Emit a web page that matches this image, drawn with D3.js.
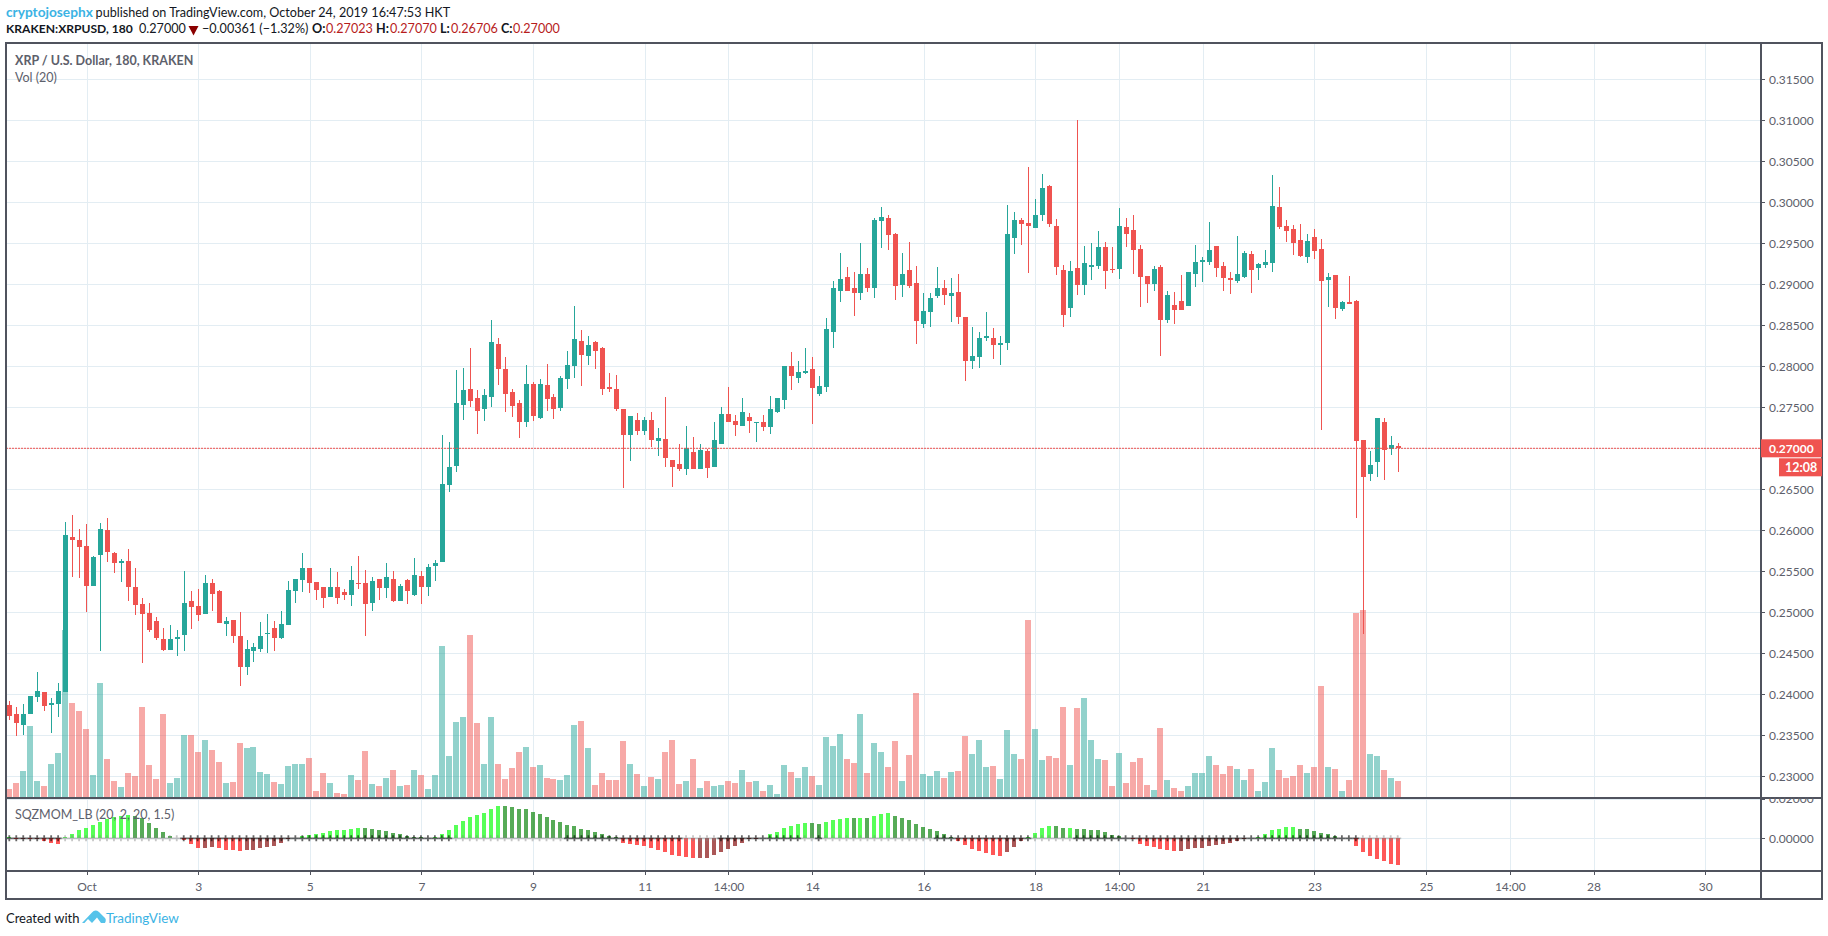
<!DOCTYPE html>
<html>
<head>
<meta charset="utf-8">
<script src="https://cdn.jsdelivr.net/npm/d3@7/dist/d3.min.js"></script>
<style>
    html, body { margin: 0; padding: 0; background: #fff; }
    svg { display: block; }
    text { font-family: Lato, "Open Sans", sans-serif; }
</style>
</head>
<body>
<div id="chart"></div>
<script>
// candles, 3h bars, oldest first
const opens = [
    0.23870,0.23760,0.23626,0.23760,0.23968,0.24029,0.23870,0.23882,0.24029,0.25919,0.25882,0.25809,0.25321,0.25699,0.26004,0.25724,0.25602,0.25626,0.25309,0.25102,
    0.24992,0.24894,0.24675,0.24541,0.24675,0.24724,0.25138,0.25077,0.24980,0.25358,0.25260,0.24858,0.24907,0.24711,0.24333,0.24529,0.24553,0.24736,0.24809,0.24687,
    0.24846,0.25260,0.25394,0.25541,0.25370,0.25309,0.25187,0.25309,0.25248,0.25211,0.25358,0.25358,0.25114,0.25407,0.25297,0.25407,0.25138,0.25394,0.25211,0.25443,
    0.25309,0.25565,0.25614,0.26553,0.26785,0.27529,0.27724,0.27614,0.27480,0.27626,0.28272,0.27968,0.27687,0.27553,0.27321,0.27785,0.27370,0.27772,0.27626,0.27492,
    0.27846,0.28004,0.28309,0.28126,0.28297,0.28224,0.27748,0.27724,0.27480,0.27163,0.27346,0.27212,0.27346,0.27090,0.27114,0.26858,0.26809,0.26748,0.26955,0.26748,
    0.26968,0.26772,0.27053,0.27419,0.27333,0.27272,0.27382,0.27309,0.27321,0.27260,0.27443,0.27590,0.28004,0.27858,0.27919,0.27968,0.27663,0.27748,0.28418,0.28918,
    0.29089,0.28955,0.28894,0.29126,0.28955,0.29772,0.29809,0.29613,0.28991,0.29174,0.29016,0.28516,0.28662,0.28857,0.28955,0.28857,0.28906,0.28601,0.28065,0.28113,
    0.28345,0.28345,0.28260,0.28284,0.29565,0.29784,0.29748,0.29687,0.29845,0.30193,0.29711,0.29174,0.28711,0.29199,0.28991,0.29211,0.29223,0.29455,0.29187,0.29187,
    0.29699,0.29662,0.29430,0.29101,0.29004,0.29211,0.28565,0.28748,0.28796,0.28735,0.29126,0.29272,0.29272,0.29467,0.29223,0.29077,0.29040,0.29089,0.29370,0.29199,
    0.29236,0.29260,0.29943,0.29711,0.29675,0.29540,0.29333,0.29577,0.29431,0.29053,0.29114,0.28699,0.28784,0.28797,0.27101,0.26687,0.26833,0.27321,0.26996,0.27023
];
const highs = [
    0.23919,0.23846,0.23882,0.23980,0.24272,0.24029,0.23955,0.24138,0.26102,0.26187,0.26016,0.26077,0.25687,0.26090,0.26150,0.25736,0.25650,0.25772,0.25541,0.25175,
    0.25114,0.24943,0.24809,0.24846,0.24785,0.25504,0.25260,0.25285,0.25455,0.25407,0.25272,0.24943,0.24907,0.25004,0.24663,0.24626,0.24882,0.24980,0.24894,0.25016,
    0.25382,0.25407,0.25724,0.25541,0.25370,0.25309,0.25541,0.25492,0.25285,0.25565,0.25687,0.25516,0.25431,0.25407,0.25602,0.25504,0.25346,0.25407,0.25663,0.25504,
    0.25590,0.25638,0.27163,0.27077,0.27955,0.27980,0.28224,0.27711,0.27724,0.28565,0.28346,0.28114,0.27724,0.27590,0.28016,0.27809,0.27846,0.28029,0.27663,0.27882,
    0.28187,0.28736,0.28443,0.28370,0.28309,0.28236,0.27919,0.27894,0.27480,0.27394,0.27431,0.27382,0.27443,0.27248,0.27626,0.26858,0.27053,0.27272,0.27138,0.27053,
    0.26992,0.27321,0.27504,0.27748,0.27407,0.27614,0.27431,0.27321,0.27407,0.27638,0.27614,0.28004,0.28175,0.28065,0.28224,0.28114,0.27882,0.28590,0.29040,0.29382,
    0.29211,0.29150,0.29504,0.29199,0.29809,0.29943,0.29845,0.29626,0.29382,0.29516,0.29223,0.28894,0.28894,0.29211,0.29052,0.29077,0.29126,0.28601,0.28479,0.28418,
    0.28662,0.28467,0.28370,0.29967,0.29882,0.29809,0.30430,0.30040,0.30349,0.30210,0.29796,0.29235,0.29284,0.31000,0.29467,0.29504,0.29650,0.29516,0.29455,0.29930,
    0.29809,0.29845,0.29479,0.29101,0.29223,0.29235,0.28918,0.28906,0.29113,0.29150,0.29479,0.29333,0.29760,0.29467,0.29272,0.29150,0.29589,0.29406,0.29406,0.29260,
    0.29418,0.30333,0.30187,0.29784,0.29723,0.29736,0.29614,0.29675,0.29553,0.29138,0.29114,0.28797,0.29101,0.28809,0.27101,0.26967,0.27369,0.27369,0.27150,0.27070
];
const lows = [
    0.23687,0.23492,0.23504,0.23760,0.23907,0.23797,0.23529,0.23724,0.24029,0.25431,0.25419,0.25004,0.25321,0.24529,0.25614,0.25480,0.25370,0.25138,0.24968,0.24382,
    0.24760,0.24663,0.24529,0.24541,0.24468,0.24529,0.24797,0.24894,0.24980,0.25016,0.24870,0.24711,0.24626,0.24102,0.24236,0.24394,0.24516,0.24504,0.24529,0.24675,
    0.24846,0.25114,0.25248,0.25236,0.25150,0.25053,0.25187,0.25102,0.25150,0.25077,0.25285,0.24711,0.25016,0.25150,0.25175,0.25126,0.25138,0.25102,0.25199,0.25102,
    0.25199,0.25382,0.25614,0.26468,0.26711,0.27346,0.27504,0.27175,0.27333,0.27504,0.27772,0.27443,0.27382,0.27126,0.27260,0.27333,0.27358,0.27455,0.27358,0.27455,
    0.27724,0.27858,0.27760,0.28016,0.27968,0.27651,0.27687,0.27455,0.26516,0.26846,0.27163,0.27163,0.27016,0.26907,0.26772,0.26529,0.26724,0.26675,0.26748,0.26748,
    0.26638,0.26772,0.27053,0.27321,0.27151,0.27272,0.27187,0.27077,0.27212,0.27175,0.27431,0.27480,0.27711,0.27797,0.27907,0.27297,0.27638,0.27687,0.28223,0.28784,
    0.28918,0.28613,0.28809,0.28906,0.28833,0.29443,0.29418,0.28809,0.28845,0.28955,0.28272,0.28467,0.28479,0.28833,0.28748,0.28540,0.28516,0.27821,0.27967,0.27979,
    0.28309,0.28089,0.28016,0.28199,0.29370,0.29479,0.29138,0.29687,0.29772,0.29699,0.29113,0.28479,0.28601,0.28870,0.28870,0.29052,0.29187,0.28943,0.29138,0.29065,
    0.29455,0.29126,0.28723,0.28772,0.28918,0.28126,0.28528,0.28516,0.28687,0.28735,0.28967,0.29028,0.29235,0.29089,0.28918,0.28882,0.29016,0.29077,0.28894,0.29052,
    0.29199,0.29150,0.29675,0.29516,0.29357,0.29333,0.29260,0.29309,0.27223,0.28723,0.28577,0.28675,0.28760,0.26150,0.24735,0.26601,0.26650,0.26613,0.26918,0.26706
];
const closes = [
    0.23736,0.23651,0.23760,0.23980,0.24041,0.23858,0.23894,0.24041,0.25943,0.25882,0.25797,0.25321,0.25675,0.26016,0.25736,0.25602,0.25626,0.25309,0.25090,0.24980,
    0.24785,0.24687,0.24541,0.24675,0.24699,0.25114,0.25065,0.24968,0.25358,0.25224,0.24870,0.24894,0.24711,0.24333,0.24553,0.24577,0.24711,0.24748,0.24687,0.24858,
    0.25272,0.25407,0.25541,0.25358,0.25272,0.25175,0.25309,0.25175,0.25211,0.25394,0.25346,0.25102,0.25382,0.25297,0.25431,0.25138,0.25321,0.25260,0.25455,0.25309,
    0.25553,0.25602,0.26565,0.26772,0.27553,0.27711,0.27577,0.27455,0.27651,0.28297,0.27968,0.27663,0.27516,0.27321,0.27785,0.27394,0.27785,0.27602,0.27480,0.27858,
    0.28016,0.28333,0.28138,0.28260,0.28187,0.27724,0.27724,0.27480,0.27163,0.27394,0.27212,0.27346,0.27102,0.27126,0.26882,0.26772,0.26748,0.27000,0.26748,0.26980,
    0.26760,0.27102,0.27419,0.27321,0.27285,0.27443,0.27333,0.27321,0.27260,0.27480,0.27614,0.28004,0.27882,0.27931,0.27943,0.27736,0.27760,0.28455,0.28955,0.29065,
    0.28918,0.28894,0.29126,0.28955,0.29784,0.29821,0.29601,0.28979,0.29126,0.28979,0.28552,0.28674,0.28833,0.28955,0.28870,0.28894,0.28601,0.28065,0.28126,0.28345,
    0.28370,0.28260,0.28284,0.29613,0.29784,0.29735,0.29711,0.29845,0.30174,0.29735,0.29211,0.28626,0.29162,0.28991,0.29260,0.29235,0.29455,0.29162,0.29174,0.29711,
    0.29613,0.29418,0.29089,0.29004,0.29187,0.28565,0.28870,0.28687,0.28687,0.29150,0.29272,0.29296,0.29418,0.29199,0.29077,0.29052,0.29126,0.29382,0.29174,0.29248,
    0.29272,0.29955,0.29699,0.29650,0.29504,0.29345,0.29528,0.29406,0.29040,0.29089,0.28711,0.28784,0.28760,0.27093,0.26650,0.26796,0.27369,0.26979,0.27040,0.27000
];

// volume, arbitrary units
const volumes = [
    24,42,78,213,48,33,99,132,501,282,258,204,66,342,114,48,30,72,63,270,
    96,54,249,42,57,186,186,135,171,141,105,42,45,162,147,150,75,69,45,39,
    93,99,99,117,18,72,42,12,9,66,51,138,39,33,57,81,33,36,81,66,
    24,66,453,123,225,240,486,222,99,240,99,54,87,135,150,90,96,57,54,51,
    66,216,228,147,36,72,51,51,168,99,69,33,60,54,135,171,39,48,114,27,
    48,33,36,48,42,81,45,48,18,36,9,96,75,57,90,63,36,180,153,189,
    114,102,249,72,162,135,90,168,48,126,312,69,63,78,57,75,78,183,129,171,
    90,93,54,201,129,114,531,204,111,123,117,270,96,267,297,171,114,111,33,132,
    42,105,117,36,21,207,51,27,18,33,72,72,123,96,69,93,84,51,84,18,
    45,147,81,57,63,96,72,90,333,90,84,18,51,551,561,129,123,81,57,48
];

// squeeze momentum histogram
const momentum = [
    0.00068,-0.00034,-0.00034,-0.00051,-0.00051,-0.00136,-0.00255,-0.00272,0.00051,0.00238,0.00425,0.00544,0.00697,0.0085,0.01003,0.01105,0.01156,0.01173,0.01156,0.0102,
    0.00799,0.00544,0.0034,0.00136,0.00017,-0.00085,-0.00306,-0.0051,-0.00476,-0.00459,-0.00476,-0.00578,-0.00595,-0.00629,-0.00612,-0.00578,-0.0051,-0.00425,-0.00374,-0.00255,
    -0.00051,0.00017,0.00102,0.0017,0.00238,0.00289,0.00391,0.00408,0.00442,0.00493,0.00544,0.0051,0.00493,0.00442,0.00391,0.00289,0.00238,0.00136,0.00085,0.00051,
    0.00034,0.00051,0.00238,0.00425,0.0068,0.00884,0.01088,0.0119,0.01292,0.01496,0.01649,0.01648,0.01598,0.01496,0.01495,0.01343,0.01241,0.01088,0.00935,0.00833,
    0.0068,0.00629,0.00476,0.00425,0.00323,0.00221,0.00119,0.00051,-0.00221,-0.00272,-0.00323,-0.00374,-0.00476,-0.00578,-0.0068,-0.00833,-0.00884,-0.00935,-0.00986,-0.00985,
    -0.00984,-0.00833,-0.0068,-0.00527,-0.00374,-0.00221,-0.00051,-0.00017,0.00017,0.00204,0.00306,0.0051,0.00629,0.00731,0.00782,0.00781,0.00714,0.00833,0.00935,0.00986,
    0.01037,0.0102,0.01037,0.0102,0.01139,0.01241,0.01292,0.01139,0.01037,0.00935,0.00731,0.00578,0.00476,0.00374,0.00221,0.00085,-0.00136,-0.0034,-0.00544,-0.00646,
    -0.00748,-0.0085,-0.00901,-0.00697,-0.00442,-0.00136,0.00051,0.00272,0.00527,0.00629,0.00612,0.0051,0.00527,0.00476,0.00459,0.00442,0.00425,0.00323,0.0017,0.00119,
    0.00017,-0.00017,-0.00272,-0.00374,-0.00442,-0.00544,-0.00595,-0.00646,-0.00645,-0.00544,-0.00493,-0.00492,-0.00391,-0.0034,-0.00289,-0.00238,-0.00136,-0.00034,0.00,0.00068,
    0.00221,0.00425,0.00476,0.00561,0.00578,0.00476,0.00459,0.00374,0.00272,0.00221,0.00119,0.00034,0.00017,-0.00391,-0.00697,-0.00901,-0.01054,-0.01156,-0.01309,-0.0136
];
// bars where the squeeze is off (gray crosses), inclusive ranges
const squeezeOff = [[8,24],[64,79],[97,101],[114,115],[117,132],[147,152],[194,199]];

const timeTicks = [
    {bar: 11, label: "Oct"}, {bar: 27, label: "3"}, {bar: 43, label: "5"}, {bar: 59, label: "7"},
    {bar: 75, label: "9"}, {bar: 91, label: "11"}, {bar: 103, label: "14:00"}, {bar: 115, label: "14"},
    {bar: 131, label: "16"}, {bar: 147, label: "18"}, {bar: 159, label: "14:00"}, {bar: 171, label: "21"},
    {bar: 187, label: "23"}, {bar: 203, label: "25"}, {bar: 215, label: "14:00"}, {bar: 227, label: "28"},
    {bar: 243, label: "30"}
];
const priceTicks = d3.range(46, 64).map(d => d * 0.005);
const momentumTicks = [0, 0.02];
const lastPrice = 0.27;
const countdown = "12:08";

const UP = "#26a69a", DOWN = "#ef5350", GRID = "#e3edf3", LINE = "#50535e", TEXT = "#5d606b", BLUE = "#3bb3e4", INK = "#131722";

const width = 1828, height = 936;
const plotLeft = 6, plotRight = 1761, outerRight = 1822;
const plotTop = 43, paneSplit = 797.5, paneEnd = 871, plotBottom = 899;

const svg = d3.select("#chart").append("svg").attr("width", width).attr("height", height);

const x = d3.scaleLinear().domain([0, 199]).range([9.3, 1397.7]);
const yPrice = d3.scaleLinear().domain([0.23, 0.315]).range([776.3, 79.3]);
const yVol = d3.scaleLinear().domain([0, 1000]).range([797, 463.7]);
const yMom = d3.scaleLinear().domain([0, 0.02]).range([838.3, 799]);

const bars = opens.map((o, i) => ({i, o, h: highs[i], l: lows[i], c: closes[i], v: volumes[i], m: momentum[i], prev: i ? momentum[i - 1] : 0}));

svg.append("defs").append("clipPath").attr("id", "plot")
    .append("rect").attr("x", plotLeft).attr("y", plotTop).attr("width", plotRight - plotLeft).attr("height", paneEnd - plotTop);
svg.select("defs").append("clipPath").attr("id", "momAxis")
    .append("rect").attr("x", plotRight).attr("y", paneSplit).attr("width", outerRight - plotRight).attr("height", paneEnd - paneSplit);

// grid
const grid = svg.append("g").attr("stroke", GRID).attr("stroke-width", 1).attr("shape-rendering", "crispEdges");
grid.selectAll(".v").data(timeTicks).enter().append("line").attr("class", "v")
    .attr("x1", d => x(d.bar) + 1).attr("x2", d => x(d.bar) + 1).attr("y1", plotTop).attr("y2", paneEnd);
grid.selectAll(".h").data(priceTicks).enter().append("line").attr("class", "h")
    .attr("x1", plotLeft).attr("x2", plotRight).attr("y1", d => yPrice(d)).attr("y2", d => yPrice(d));
grid.selectAll(".m").data(momentumTicks).enter().append("line").attr("class", "m")
    .attr("x1", plotLeft).attr("x2", plotRight).attr("y1", d => yMom(d)).attr("y2", d => yMom(d));

const plot = svg.append("g").attr("clip-path", "url(#plot)");

// volume under the candles
plot.append("g").selectAll("rect").data(bars).enter().append("rect")
    .attr("x", d => x(d.i) - 3).attr("width", 6)
    .attr("y", d => yVol(d.v)).attr("height", d => yVol(0) - yVol(d.v))
    .attr("fill", d => d.c < d.o ? DOWN : UP).attr("fill-opacity", 0.5)
    .attr("shape-rendering", "crispEdges");

const candles = plot.append("g").attr("shape-rendering", "crispEdges");
candles.selectAll("line").data(bars).enter().append("line")
    .attr("x1", d => Math.round(x(d.i)) + 0.5).attr("x2", d => Math.round(x(d.i)) + 0.5)
    .attr("y1", d => yPrice(d.h)).attr("y2", d => yPrice(d.l))
    .attr("stroke", d => d.c < d.o ? DOWN : UP);
candles.selectAll("rect").data(bars).enter().append("rect")
    .attr("x", d => Math.round(x(d.i)) - 2).attr("width", 5)
    .attr("y", d => yPrice(Math.max(d.o, d.c)))
    .attr("height", d => Math.max(1, Math.abs(yPrice(d.o) - yPrice(d.c))))
    .attr("fill", d => d.c < d.o ? DOWN : UP);

// last price line
plot.append("line").attr("x1", plotLeft).attr("x2", plotRight)
    .attr("y1", yPrice(lastPrice)).attr("y2", yPrice(lastPrice))
    .attr("stroke", DOWN).attr("stroke-dasharray", "2,1");

// squeeze momentum
function momColor(d) {
    if (d.m >= 0) return d.m > d.prev ? "#00ff00" : "#008000";
    return d.m < d.prev ? "#ff0000" : "#800000";
}
plot.append("g").selectAll("rect").data(bars).enter().append("rect")
    .attr("x", d => Math.round(x(d.i)) - 2).attr("width", 4)
    .attr("y", d => Math.min(yMom(d.m), yMom(0)))
    .attr("height", d => Math.abs(yMom(d.m) - yMom(0)))
    .attr("fill", momColor).attr("fill-opacity", 0.66)
    .attr("shape-rendering", "crispEdges");

const isOff = i => squeezeOff.some(r => i >= r[0] && i <= r[1]);
const crosses = plot.append("g");
crosses.selectAll("path").data(bars).enter().append("path")
    .attr("d", d => {
        const cx = x(d.i), cy = yMom(0);
        return `M${cx - 3.5},${cy}H${cx + 3.5}M${cx},${cy - 3}V${cy + 3}`;
    })
    .attr("fill", "none").attr("stroke-width", 1.8)
    .attr("stroke", d => isOff(d.i) ? "#808080" : "#000")
    .attr("stroke-opacity", d => isOff(d.i) ? 0.45 : 0.6);

// outer frame
const chartFrame = svg.append("g").attr("stroke", LINE).attr("stroke-width", 1.3).attr("shape-rendering", "crispEdges");
chartFrame.append("rect").attr("x", plotLeft).attr("y", plotTop).attr("width", outerRight - plotLeft).attr("height", plotBottom - plotTop).attr("fill", "none");
chartFrame.append("line").attr("x1", plotLeft).attr("x2", outerRight).attr("y1", paneSplit).attr("y2", paneSplit).attr("stroke-width", 2);
chartFrame.append("line").attr("x1", plotLeft).attr("x2", outerRight).attr("y1", paneEnd).attr("y2", paneEnd);
chartFrame.append("line").attr("x1", plotRight).attr("x2", plotRight).attr("y1", plotTop).attr("y2", plotBottom);

// price axis
const priceAxis = svg.append("g").attr("font-size", 12).attr("fill", TEXT);
priceAxis.selectAll("line").data(priceTicks).enter().append("line")
    .attr("x1", plotRight).attr("x2", plotRight + 4).attr("y1", d => yPrice(d)).attr("y2", d => yPrice(d))
    .attr("stroke", LINE).attr("shape-rendering", "crispEdges");
priceAxis.selectAll("text").data(priceTicks).enter().append("text")
    .attr("x", plotRight + 8).attr("y", d => yPrice(d)).attr("dy", "0.36em")
    .text(d => d.toFixed(5));

const momAxis = svg.append("g").attr("font-size", 12).attr("fill", TEXT).attr("clip-path", "url(#momAxis)");
momAxis.selectAll("line").data(momentumTicks).enter().append("line")
    .attr("x1", plotRight).attr("x2", plotRight + 4).attr("y1", d => yMom(d)).attr("y2", d => yMom(d))
    .attr("stroke", LINE).attr("shape-rendering", "crispEdges");
momAxis.selectAll("text").data(momentumTicks).enter().append("text")
    .attr("x", plotRight + 8).attr("y", d => yMom(d)).attr("dy", "0.36em")
    .text(d => d.toFixed(5));

// last price tag and countdown
svg.append("rect").attr("x", plotRight).attr("y", yPrice(lastPrice) - 9).attr("width", outerRight - plotRight).attr("height", 18).attr("fill", DOWN);
svg.append("text").attr("x", plotRight + 8).attr("y", yPrice(lastPrice)).attr("dy", "0.36em")
    .attr("font-size", 12).attr("font-weight", 700).attr("fill", "#fff").text(lastPrice.toFixed(5));
svg.append("rect").attr("x", 1779).attr("y", yPrice(lastPrice) + 10).attr("width", outerRight - 1779).attr("height", 18).attr("fill", DOWN);
svg.append("text").attr("x", 1785).attr("y", yPrice(lastPrice) + 19).attr("dy", "0.36em")
    .attr("font-size", 12.5).attr("font-weight", 700).attr("fill", "#fff").text(countdown);

// time axis
const timeAxis = svg.append("g").attr("font-size", 12).attr("fill", TEXT);
timeAxis.selectAll("line").data(timeTicks).enter().append("line")
    .attr("x1", d => x(d.bar) + 1).attr("x2", d => x(d.bar) + 1).attr("y1", paneEnd).attr("y2", paneEnd + 4)
    .attr("stroke", LINE).attr("shape-rendering", "crispEdges");
timeAxis.selectAll("text").data(timeTicks).enter().append("text")
    .attr("x", d => x(d.bar) + 1).attr("y", 887).attr("dy", "0.36em").attr("text-anchor", "middle")
    .text(d => d.label);

// pane legends
function label(text, px, py, size, color, weight) {
    return svg.append("text").attr("x", px).attr("y", py).attr("font-size", size)
        .attr("fill", color).attr("font-weight", weight || 400).text(text);
}
label("XRP / U.S. Dollar, 180, KRAKEN", 15, 65, 12.5, TEXT, 700);
label("Vol (20)", 15, 82, 12.5, TEXT);
label("SQZMOM_LB (20, 2, 20, 1.5)", 15, 819, 12.5, TEXT);

// header
label("cryptojosephx", 6, 17, 13.7, BLUE, 700);
label("published on TradingView.com, October 24, 2019 16:47:53 HKT", 95.6, 17, 12.6, INK);
label("KRAKEN:XRPUSD, 180", 6, 33, 12.1, INK, 700);
label("0.27000", 139, 33, 12.6, INK);
svg.append("path").attr("d", "M188.5,26H198.5L193.5,35.5Z").attr("fill", "#8b0000");
label("\u22120.00361 (\u22121.32%)", 202, 33, 12.6, INK);
const ohlc = [["O:", 312, 326, opens], ["H:", 376, 390, highs], ["L:", 440, 451, lows], ["C:", 501, 513, closes]];
ohlc.forEach(r => {
    label(r[0], r[1], 33, 12.6, INK, 700);
    label(r[3][199].toFixed(5), r[2], 33, 12.6, "#b71c1c");
});

// footer
label("Created with", 6, 923, 13, INK);
label("TradingView", 106, 923, 13.5, BLUE);
svg.append("path")
    .attr("d", "M82,923L92,912.5Q95,909 99,912L104,917Q107,919 105,923H101L97,917.5L92,923L88,919L84.5,923Z")
    .attr("fill", "#56c3ea");
</script>
</body>
</html>
